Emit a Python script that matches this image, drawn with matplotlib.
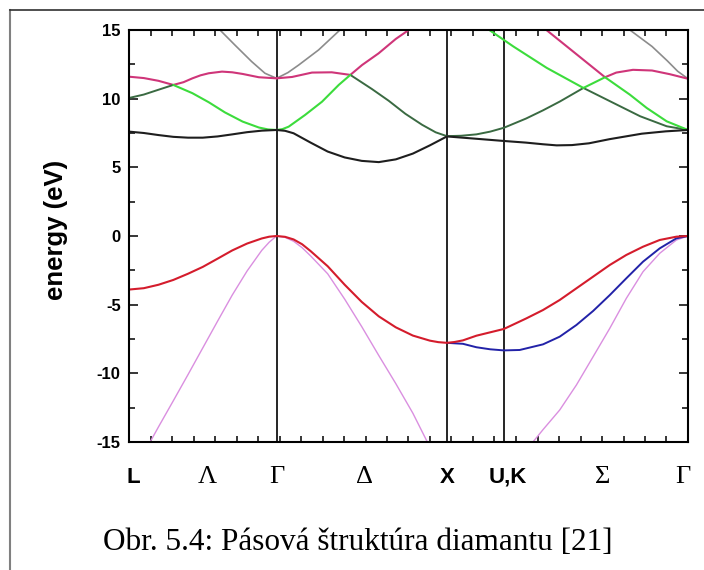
import numpy as np
import matplotlib
matplotlib.use("Agg")
import matplotlib.pyplot as plt
import matplotlib.transforms as mtransforms
from matplotlib.lines import Line2D
from matplotlib.ticker import MultipleLocator

plt.rcParams["axes.unicode_minus"] = False

# k-path L - Gamma - X - U|K - Gamma (units of 2pi/a)
k_nodes = [0.0, 0.866, 1.866, 2.20, 3.281]
k_labels = ["L", "\u039b", "\u0393", "\u0394", "X", "U,K", "\u03a3", "\u0393"]
k_label_pos = [0.025, 0.46, 0.866, 1.385, 1.866, 2.225, 2.78, 3.25]
k_label_serif = [False, True, True, True, False, False, True, True]

# valence bands
red_k = [0, .087, .173, .26, .346, .433, .52, .606, .693, .779, .823, .866,
         .916, .966, 1.016, 1.066, 1.166, 1.266, 1.366, 1.466, 1.566, 1.666,
         1.766, 1.816, 1.866, 1.91, 1.96, 2.039, 2.20, 2.332, 2.43, 2.528,
         2.626, 2.724, 2.822, 2.919, 3.017, 3.115, 3.213, 3.281]
red_e = [-3.9, -3.8, -3.55, -3.2, -2.75, -2.25, -1.65, -1.05, -0.55, -0.18, -0.05, 0,
         -0.06, -0.25, -0.6, -1.1, -2.2, -3.55, -4.8, -5.85, -6.65, -7.25,
         -7.62, -7.73, -7.78, -7.72, -7.6, -7.26, -6.77, -6.0, -5.39, -4.66,
         -3.81, -2.96, -2.11, -1.38, -0.78, -0.29, -0.05, 0]

blue_k = [1.866, 1.96, 2.039, 2.12, 2.20, 2.293, 2.43, 2.528, 2.626, 2.724,
          2.822, 2.919, 3.017, 3.115, 3.213, 3.281]
blue_e = [-7.78, -7.85, -8.1, -8.25, -8.33, -8.3, -7.89, -7.33, -6.48, -5.46,
          -4.3, -3.08, -1.87, -0.9, -0.17, 0]

violet_lg_k = [.124, .173, .26, .346, .433, .52, .606, .693, .779, .823, .866]
violet_lg_e = [-15, -13.9, -12.0, -10.1, -8.15, -6.2, -4.3, -2.55, -1.05, -0.45, 0]
violet_gx_k = [.866, .916, .966, 1.016, 1.066, 1.166, 1.266, 1.366, 1.466,
               1.566, 1.666, 1.751]
violet_gx_e = [0, -0.1, -0.38, -0.85, -1.45, -2.75, -4.6, -6.6, -8.7,
               -10.75, -12.9, -15]
violet_kg_k = [2.371, 2.43, 2.528, 2.626, 2.724, 2.822, 2.919, 3.017, 3.115,
               3.213, 3.281]
violet_kg_e = [-15, -14.1, -12.67, -10.85, -8.79, -6.72, -4.54, -2.6, -1.26,
               -0.29, 0]

# conduction bands
black_k = [0, .087, .173, .26, .346, .433, .52, .606, .693, .779, .866,
           .916, .966, 1.066, 1.166, 1.266, 1.366, 1.466, 1.566, 1.666, 1.766,
           1.866, 2.039, 2.20, 2.33, 2.43, 2.51, 2.60, 2.70, 2.82, 3.01, 3.15,
           3.281]
black_e = [7.6, 7.5, 7.35, 7.22, 7.16, 7.16, 7.25, 7.4, 7.56, 7.67, 7.72,
           7.66, 7.48, 6.8, 6.15, 5.72, 5.47, 5.38, 5.58, 6.0, 6.6,
           7.25, 7.08, 6.92, 6.8, 6.68, 6.6, 6.62, 6.75, 7.05, 7.45, 7.62,
           7.72]

dgreen_lg_k = [0, .087, .173, .26]
dgreen_lg_e = [10.05, 10.3, 10.65, 11.0]
dgreen_gx_k = [1.299, 1.426, 1.524, 1.622, 1.72, 1.80, 1.866]
dgreen_gx_e = [11.73, 10.7, 9.85, 8.9, 8.1, 7.55, 7.27]
dgreen_xk_k = [1.866, 1.95, 2.039, 2.12, 2.20, 2.33, 2.43, 2.53, 2.667]
dgreen_xk_e = [7.27, 7.3, 7.4, 7.6, 7.88, 8.55, 9.15, 9.8, 10.78]
dgreen_kg_k = [2.667, 2.843, 3.0, 3.156, 3.281]
dgreen_kg_e = [10.78, 9.69, 8.72, 7.99, 7.72]

green_lg_k = [.26, .372, .468, .563, .667, .762, .816, .866]
green_lg_e = [11.0, 10.4, 9.74, 9.0, 8.33, 7.9, 7.76, 7.72]
green_gx_k = [.866, .9, .937, 1.033, 1.133, 1.231, 1.299]
green_gx_e = [7.72, 7.78, 7.96, 8.81, 9.78, 11.0, 11.73]
green_xk_k = [2.115, 2.256, 2.452, 2.667]
green_xk_e = [15.0, 13.8, 12.24, 10.78]
green_kg_k = [2.667, 2.794, 2.94, 3.039, 3.156, 3.281]
green_kg_e = [10.78, 11.56, 10.29, 9.32, 8.35, 7.72]

pink_lg_k = [0, .087, .173, .26, .32, .372, .42, .468, .546, .606, .667,
             .762, .866]
pink_lg_e = [11.6, 11.5, 11.3, 11.0, 11.2, 11.48, 11.7, 11.85, 11.97, 11.92,
             11.8, 11.56, 11.48]
pink_gx_k = [.866, .957, 1.074, 1.19, 1.299, 1.368, 1.465, 1.566, 1.642]
pink_gx_e = [11.48, 11.58, 11.9, 11.92, 11.73, 12.45, 13.3, 14.35, 15.0]
pink_kg_k = [2.45, 2.62, 2.794, 2.86, 2.958, 3.07, 3.175, 3.281]
pink_kg_e = [15.0, 13.3, 11.56, 11.9, 12.1, 12.05, 11.78, 11.45]

gray_lg_k = [.534, .622, .72, .798, .866]
gray_lg_e = [15.0, 13.9, 12.7, 11.85, 11.48]
gray_gx_k = [.866, .933, .996, 1.113, 1.238]
gray_gx_e = [11.48, 11.9, 12.45, 13.55, 15.0]
gray_kg_k = [2.94, 3.07, 3.16, 3.22, 3.281]
gray_kg_e = [15.0, 13.8, 12.75, 12.0, 11.45]

c_violet = "#da8fe0"
c_blue = "#2222a8"
c_red = "#d41c2c"
c_black = "#1e1e1e"
c_dgreen = "#3a6a42"
c_green = "#3cdc3c"
c_pink = "#cf3579"
c_gray = "#8c8c8c"

# (k, E, colour, width) in drawing order
bands = [
    (violet_lg_k, violet_lg_e, c_violet, 1.0),
    (violet_gx_k, violet_gx_e, c_violet, 1.0),
    (violet_kg_k, violet_kg_e, c_violet, 1.0),
    (blue_k, blue_e, c_blue, 1.4),
    (red_k, red_e, c_red, 1.5),
    (gray_lg_k, gray_lg_e, c_gray, 1.2),
    (gray_gx_k, gray_gx_e, c_gray, 1.2),
    (gray_kg_k, gray_kg_e, c_gray, 1.2),
    (pink_lg_k, pink_lg_e, c_pink, 1.5),
    (pink_gx_k, pink_gx_e, c_pink, 1.5),
    (pink_kg_k, pink_kg_e, c_pink, 1.5),
    (dgreen_lg_k, dgreen_lg_e, c_dgreen, 1.4),
    (dgreen_gx_k, dgreen_gx_e, c_dgreen, 1.4),
    (dgreen_xk_k, dgreen_xk_e, c_dgreen, 1.4),
    (dgreen_kg_k, dgreen_kg_e, c_dgreen, 1.4),
    (green_lg_k, green_lg_e, c_green, 1.5),
    (green_gx_k, green_gx_e, c_green, 1.5),
    (green_xk_k, green_xk_e, c_green, 1.5),
    (green_kg_k, green_kg_e, c_green, 1.5),
    (black_k, black_e, c_black, 1.5),
]

sans = "Liberation Sans"
serif = "Liberation Serif"

fig = plt.figure(figsize=(7.04, 5.70), dpi=100)
ax = fig.add_axes([129 / 704, 1 - 442 / 570, 559 / 704, 412 / 570])

for kx in k_nodes[1:-1]:
    ax.axvline(kx, color="black", lw=1.2, zorder=1)

for k, e, col, lw in bands:
    ax.plot(k, e, color=col, lw=lw, solid_capstyle="round",
            solid_joinstyle="round", zorder=2)

ax.set_xlim(k_nodes[0], k_nodes[-1])
ax.set_ylim(-15, 15)

for s in ax.spines.values():
    s.set_linewidth(1.5)

ax.set_xticks(np.linspace(k_nodes[0], k_nodes[-1], 27))
ax.set_xticklabels([])
ax.tick_params(axis="x", direction="in", top=True, bottom=True,
               length=4.5, width=1.1)
ax.yaxis.set_major_locator(MultipleLocator(5))
ax.yaxis.set_minor_locator(MultipleLocator(2.5))
ax.tick_params(axis="y", which="major", direction="in", left=True, right=True,
               length=6.5, width=1.1, pad=6, labelsize=12)
ax.tick_params(axis="y", which="minor", direction="in", left=True, right=True,
               length=4.5, width=1.1)
for lbl in ax.get_yticklabels():
    lbl.set_fontweight("bold")
    lbl.set_family(sans)

ax.set_ylabel("energy (eV)", fontsize=18.5, fontweight="bold", family=sans)
ax.yaxis.set_label_coords(-0.11, 0.515)

trans = mtransforms.blended_transform_factory(ax.transData, ax.transAxes)
for lab, pos, is_serif in zip(k_labels, k_label_pos, k_label_serif):
    if is_serif:
        ax.text(pos, -0.085, lab, transform=trans, ha="center", va="center",
                fontsize=19, family=serif)
    else:
        ax.text(pos, -0.085, lab, transform=trans, ha="center", va="center",
                fontsize=16, fontweight="bold", family=sans)

fig.text(358 / 704, 1 - 543 / 570, "Obr. 5.4: Pásová štruktúra diamantu [21]",
         ha="center", va="center", fontsize=22.5, family=serif)

# page frame
fig.add_artist(Line2D([10 / 704, 10 / 704], [0, 1 - 10 / 570],
                      transform=fig.transFigure, color="#808080", lw=1.5))
fig.add_artist(Line2D([10 / 704, 1], [1 - 10 / 570, 1 - 10 / 570],
                      transform=fig.transFigure, color="#303030", lw=1.2))

fig.savefig("out.png", dpi=100)
